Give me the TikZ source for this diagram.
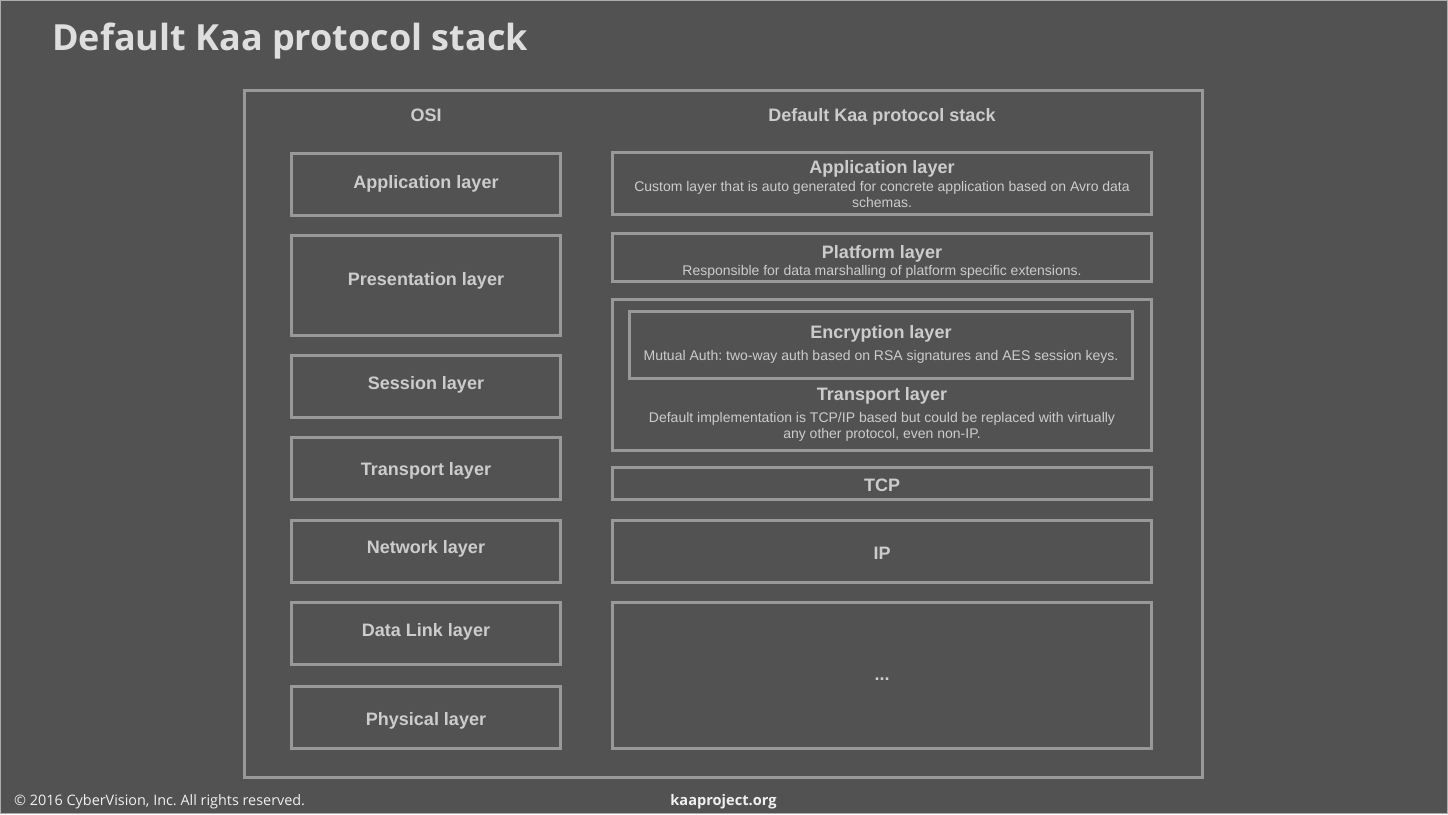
\documentclass[tikz,border=0pt]{standalone}
\usepackage{fontspec}
\setmainfont{Liberation Sans}
\newfontfamily\opensans{Open Sans}
\usepackage{xcolor}
\usepackage{tikz}
\definecolor{slidebg}{HTML}{525252}
\definecolor{boxline}{HTML}{999999}
\definecolor{boxtext}{HTML}{CCCCCC}
\definecolor{headtext}{HTML}{DEDEDE}
\definecolor{foottext}{HTML}{F0F0F0}
\tikzset{
  layerbox/.style={draw=boxline, line width=3pt, inner sep=0pt, minimum width=269pt, minimum height=62pt},
  widebox/.style={layerbox, minimum width=539pt},
  boxtitle/.style={anchor=base, inner sep=0pt, text=boxtext, font=\fontsize{18}{20}\selectfont\bfseries},
  boxdesc/.style={anchor=base, inner sep=0pt, text=boxtext, font=\fontsize{14}{16}\selectfont},
}
\frenchspacing

\begin{document}
\begin{tikzpicture}[x=1pt, y=-1pt]
    \useasboundingbox (0,0) rectangle (1448,814);
    \fill[slidebg] (0,0) rectangle (1448,814);
    \draw[boxline!80!white, line width=1pt] (0.5,0.5) rectangle (1447.5,813.5);

    \node[anchor=base west, inner sep=0pt, text=headtext, font=\opensans\bfseries\fontsize{36}{40}\selectfont] (title) at (52,50) {Default Kaa protocol stack};

    % outer frame
    \node[layerbox, minimum width=958pt, minimum height=687pt] (frame) at (723.5,434) {};
    \node[boxtitle] (osiHead) at (426,121) {OSI};
    \node[boxtitle] (kaaHead) at (882,121) {Default Kaa protocol stack};

    % OSI column
    \node[layerbox] (osiApp) at (426,184.5) {};
    \node[layerbox, minimum height=100pt] (osiPres) at (426,285.5) {};
    \node[layerbox] (osiSess) at (426,386.5) {};
    \node[layerbox] (osiTrans) at (426,468.5) {};
    \node[layerbox] (osiNet) at (426,551.5) {};
    \node[layerbox] (osiLink) at (426,633.5) {};
    \node[layerbox] (osiPhys) at (426,717.5) {};

    \node[boxtitle] (osiAppText) at (426,188) {Application layer};
    \node[boxtitle] (osiPresText) at (426,285) {Presentation layer};
    \node[boxtitle] (osiSessText) at (426,389) {Session layer};
    \node[boxtitle] (osiTransText) at (426,475) {Transport layer};
    \node[boxtitle] (osiNetText) at (426,553) {Network layer};
    \node[boxtitle] (osiLinkText) at (426,636) {Data Link layer};
    \node[boxtitle] (osiPhysText) at (426,725) {Physical layer};

    % Kaa column
    \node[widebox] (kaaApp) at (882,183.5) {};
    \node[widebox, minimum height=48pt] (kaaPlat) at (882,257.5) {};
    \node[widebox, minimum height=151pt] (kaaTrans) at (882,375) {};
    \node[layerbox, minimum width=503pt, minimum height=67pt] (kaaEnc) at (881,345) {};
    \node[widebox, minimum height=32pt] (kaaTcp) at (882,483.5) {};
    \node[widebox] (kaaIp) at (882,551.5) {};
    \node[widebox, minimum height=146pt] (kaaRest) at (882,675.5) {};

    \node[boxtitle] (kaaAppText) at (882,173) {Application layer};
    \node[boxdesc] (kaaAppDescA) at (882,191) {Custom layer that is auto generated for concrete application based on Avro data};
    \node[boxdesc] (kaaAppDescB) at (882,207) {schemas.};
    \node[boxtitle] (kaaPlatText) at (882,258) {Platform layer};
    \node[boxdesc] (kaaPlatDesc) at (882,275) {Responsible for data marshalling of platform specific extensions.};
    \node[boxtitle] (kaaEncText) at (881,338) {Encryption layer};
    \node[boxdesc] (kaaEncDesc) at (881,360) {Mutual Auth: two-way auth based on RSA signatures and AES session keys.};
    \node[boxtitle] (kaaTransText) at (882,400) {Transport layer};
    \node[boxdesc] (kaaTransDescA) at (882,422) {Default implementation is TCP/IP based but could be replaced with virtually};
    \node[boxdesc] (kaaTransDescB) at (882,438) {any other protocol, even non-IP.};
    \node[boxtitle] (kaaTcpText) at (882,491) {TCP};
    \node[boxtitle] (kaaIpText) at (882,559) {IP};
    \node[boxtitle] (kaaRestText) at (882,680) {...};

    % footer
    \node[anchor=base west, inner sep=0pt, text=foottext, font=\opensans\fontsize{14.4}{16}\selectfont] (copyright) at (14,805) {© 2016 CyberVision, Inc. All rights reserved.};
    \node[anchor=base, inner sep=0pt, text=foottext, font=\opensans\bfseries\fontsize{14.6}{16}\selectfont] (site) at (723.5,805) {kaaproject.org};
\end{tikzpicture}
\end{document}
